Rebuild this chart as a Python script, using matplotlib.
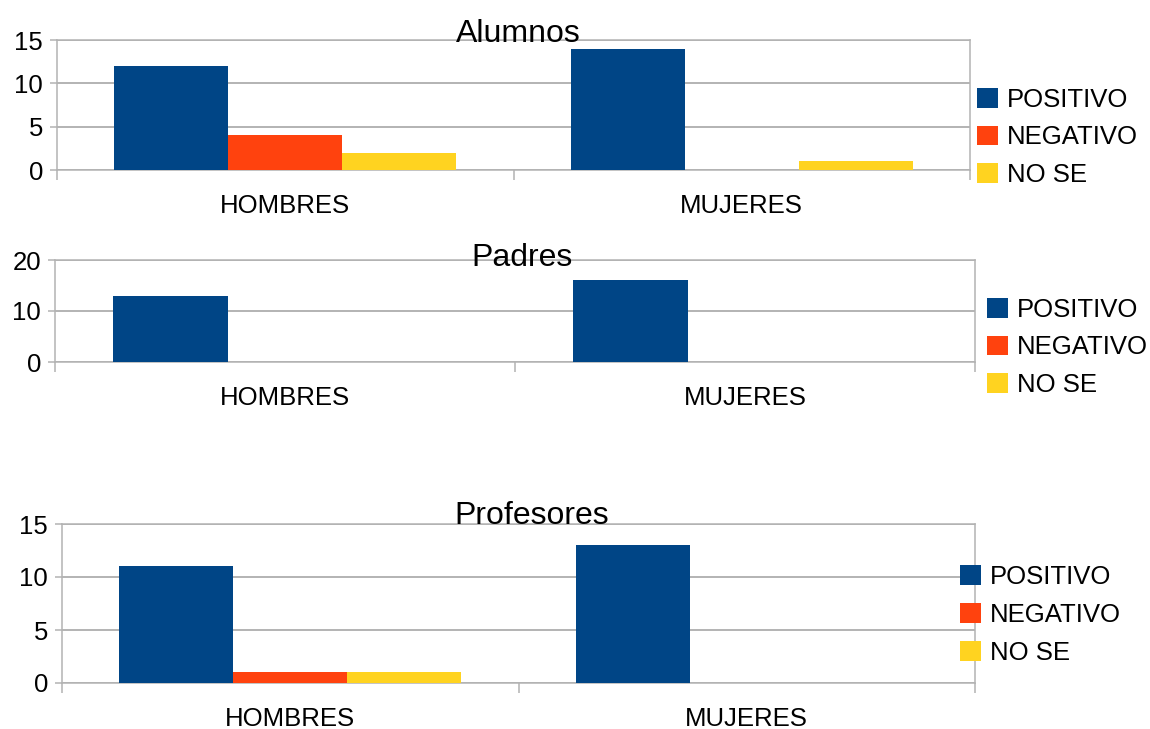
import matplotlib
matplotlib.use("Agg")
import matplotlib.pyplot as plt
import numpy as np

plt.rcParams['font.family'] = ['Liberation Sans', 'DejaVu Sans']

categories = ['HOMBRES', 'MUJERES']
series_names = ['POSITIVO', 'NEGATIVO', 'NO SE']
series_colors = ['#004586', '#ff420e', '#ffd320']

alumnos_positivo = [12, 14]
alumnos_negativo = [4, 0]
alumnos_no_se = [2, 1]

padres_positivo = [13, 16]
padres_negativo = [0, 0]
padres_no_se = [0, 0]

profesores_positivo = [11, 13]
profesores_negativo = [1, 0]
profesores_no_se = [1, 0]

titles = ['Alumnos', 'Padres', 'Profesores']
y_max = [15, 20, 15]
y_step = [5, 10, 5]

GRID = '#b3b3b3'
W, H = 1150, 729

fig = plt.figure(figsize=(W / 100, H / 100), dpi=100)


def fx(px):
    return px / W


def fy(py):
    return 1 - py / H


# axes boxes in pixels: left, right, top, bottom
boxes = [(57, 970, 40, 170), (55, 975, 260, 362), (62, 975, 524, 683)]
title_pos = [(518, 42), (522, 266), (532, 524)]
legend_pos = [(977, 88), (987, 298), (960, 565)]
legend_gap = [0.52, 0.52, 0.54]

panel_data = [
    (alumnos_positivo, alumnos_negativo, alumnos_no_se),
    (padres_positivo, padres_negativo, padres_no_se),
    (profesores_positivo, profesores_negativo, profesores_no_se),
]

x = np.arange(len(categories))
width = 0.25

for i, (box, values) in enumerate(zip(boxes, panel_data)):
    l, r, t, b = box
    ax = fig.add_axes([fx(l), fy(b), fx(r) - fx(l), fy(t) - fy(b)])
    handles = []
    for k, (vals, name, col) in enumerate(zip(values, series_names, series_colors)):
        h = ax.bar(x + (k - 1) * width, vals, width, color=col, label=name,
                   linewidth=0, zorder=3)
        handles.append(h)
    ax.set_xlim(-0.5, 1.5)
    ax.set_ylim(0, y_max[i])
    ax.set_yticks(np.arange(0, y_max[i] + 1, y_step[i]))
    ax.set_xticks(x)
    ax.set_xticklabels(categories)
    ax.set_xticks([-0.5, 0.5, 1.5], minor=True)
    ax.tick_params(axis='x', which='major', length=0, pad=17, labelsize=18.5)
    ax.tick_params(axis='x', which='minor', length=7.5, width=1.1, color=GRID)
    ax.tick_params(axis='y', length=5, width=1.1, color=GRID, pad=5, labelsize=18.5)
    ax.grid(axis='y', color=GRID, linewidth=1.4, zorder=0)
    ax.set_axisbelow(True)
    for sp in ax.spines.values():
        sp.set_color(GRID)
        sp.set_linewidth(1.1)

    tx, ty = title_pos[i]
    fig.text(fx(tx), fy(ty), titles[i], ha='center', va='baseline',
             fontsize=23, zorder=5)

    lx, ly = legend_pos[i]
    fig.legend(handles=handles, loc='upper left',
               bbox_to_anchor=(fx(lx), fy(ly)), frameon=False,
               fontsize=18.5, borderpad=0, borderaxespad=0,
               handlelength=0.8, handleheight=0.8, handletextpad=0.35,
               labelspacing=legend_gap[i])

fig.savefig('out.png', dpi=100)
